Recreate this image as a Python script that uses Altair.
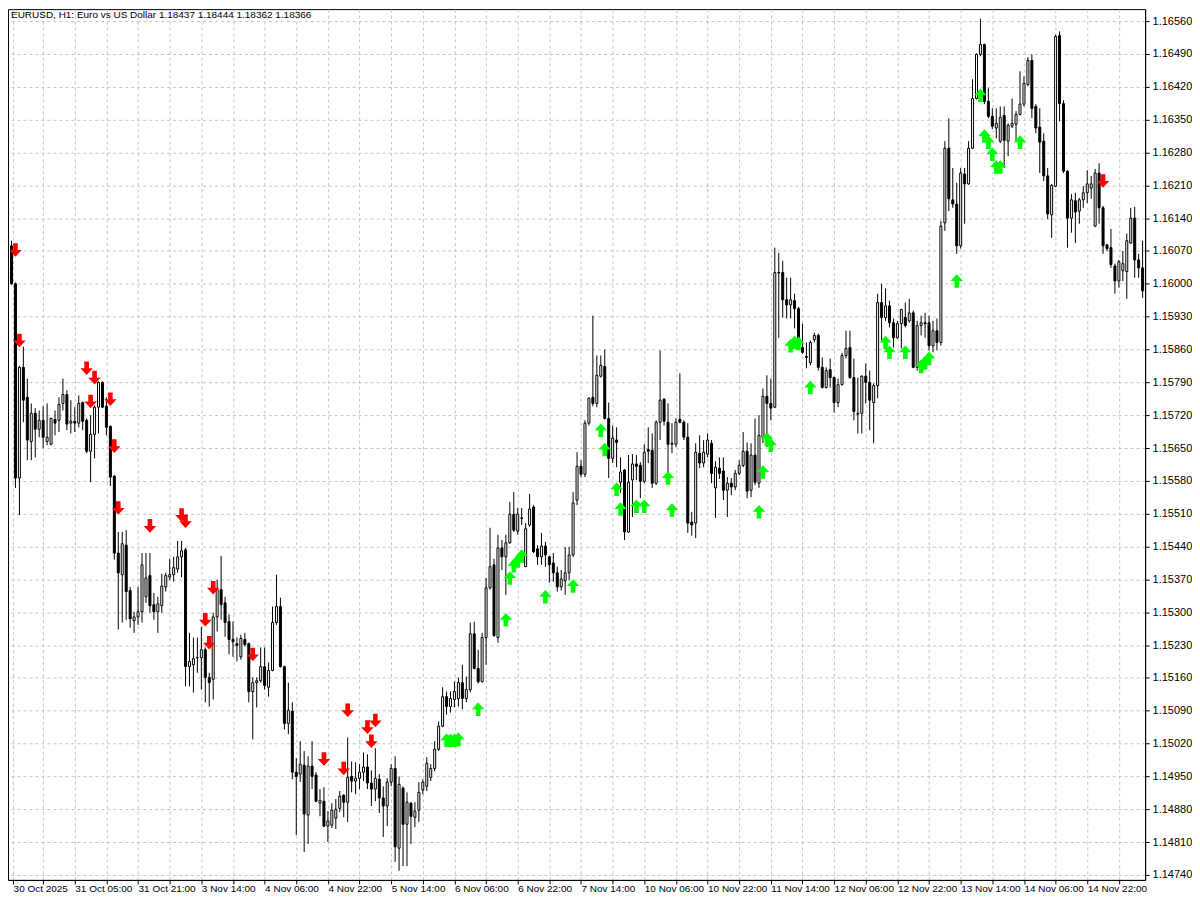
import altair as alt
import pandas as pd

opens = [
1.16081, 1.16000, 1.15586, 1.15822, 1.15758, 1.15664, 1.15724, 1.15690, 1.15709, 1.15664,
1.15658, 1.15711, 1.15709, 1.15745, 1.15764, 1.15703, 1.15707, 1.15703, 1.15747, 1.15709,
1.15643, 1.15679, 1.15737, 1.15790, 1.15739, 1.15696, 1.15590, 1.15426, 1.15380, 1.15443,
1.15346, 1.15282, 1.15290, 1.15301, 1.15333, 1.15378, 1.15316, 1.15301, 1.15314, 1.15354,
1.15375, 1.15380, 1.15392, 1.15418, 1.15433, 1.15184, 1.15188, 1.15203, 1.15203, 1.15220,
1.15161, 1.15157, 1.15290, 1.15348, 1.15320, 1.15280, 1.15242, 1.15233, 1.15205, 1.15242,
1.15233, 1.15131, 1.15150, 1.15154, 1.15184, 1.15140, 1.15176, 1.15278, 1.15312, 1.15184,
1.15063, 1.15089, 1.14959, 1.14955, 1.14974, 1.14868, 1.14972, 1.14953, 1.14893, 1.14897,
1.14844, 1.14846, 1.14861, 1.14882, 1.14910, 1.14895, 1.14950, 1.14940, 1.14946, 1.14959,
1.14970, 1.14936, 1.14923, 1.14944, 1.14904, 1.14887, 1.14938, 1.14967, 1.14797, 1.14925,
1.14848, 1.14893, 1.14863, 1.14878, 1.14921, 1.14929, 1.14948, 1.14967, 1.15008, 1.15057,
1.15120, 1.15099, 1.15114, 1.15116, 1.15150, 1.15116, 1.15135, 1.15254, 1.15180, 1.15152,
1.15246, 1.15352, 1.15401, 1.15246, 1.15437, 1.15418, 1.15448, 1.15509, 1.15473, 1.15501,
1.15397, 1.15486, 1.15524, 1.15435, 1.15418, 1.15441, 1.15418, 1.15405, 1.15384, 1.15354,
1.15367, 1.15384, 1.15422, 1.15539, 1.15611, 1.15594, 1.15703, 1.15758, 1.15745, 1.15803,
1.15824, 1.15713, 1.15628, 1.15667, 1.15577, 1.15603, 1.15471, 1.15582, 1.15616, 1.15613,
1.15579, 1.15647, 1.15645, 1.15575, 1.15705, 1.15754, 1.15705, 1.15658, 1.15658, 1.15711,
1.15705, 1.15673, 1.15492, 1.15490, 1.15639, 1.15618, 1.15637, 1.15660, 1.15565, 1.15607,
1.15601, 1.15560, 1.15575, 1.15567, 1.15596, 1.15613, 1.15643, 1.15560, 1.15635, 1.15575,
1.15673, 1.15760, 1.15745, 1.15737, 1.16024, 1.16024, 1.15966, 1.15955, 1.15964, 1.15947,
1.15864, 1.15845, 1.15832, 1.15881, 1.15890, 1.15822, 1.15779, 1.15817, 1.15800, 1.15747,
1.15785, 1.15847, 1.15864, 1.15800, 1.15722, 1.15724, 1.15803, 1.15790, 1.15747, 1.15783,
1.15960, 1.15928, 1.15953, 1.15917, 1.15885, 1.15915, 1.15928, 1.15921, 1.15938, 1.15822,
1.15911, 1.15917, 1.15917, 1.15868, 1.15900, 1.15875, 1.16130, 1.16289, 1.16179, 1.16170,
1.16081, 1.16234, 1.16213, 1.16289, 1.16395, 1.16489, 1.16510, 1.16389, 1.16357, 1.16332,
1.16304, 1.16359, 1.16304, 1.16336, 1.16340, 1.16361, 1.16383, 1.16425, 1.16476, 1.16378,
1.16334, 1.16304, 1.16230, 1.16147, 1.16208, 1.16529, 1.16384, 1.16240, 1.16140, 1.16177,
1.16155, 1.16179, 1.16194, 1.16204, 1.16123, 1.16236, 1.16162, 1.16083, 1.16077, 1.16038,
1.16006, 1.16028, 1.16026, 1.16087, 1.16140, 1.16051, 1.16034,
]

highs = [
1.16092, 1.16003, 1.15825, 1.15866, 1.15798, 1.15745, 1.15735, 1.15730, 1.15739, 1.15745,
1.15715, 1.15730, 1.15758, 1.15798, 1.15773, 1.15752, 1.15737, 1.15762, 1.15749, 1.15713,
1.15720, 1.15741, 1.15792, 1.15792, 1.15758, 1.15698, 1.15592, 1.15471, 1.15471, 1.15475,
1.15354, 1.15301, 1.15354, 1.15426, 1.15426, 1.15426, 1.15341, 1.15333, 1.15382, 1.15384,
1.15414, 1.15418, 1.15452, 1.15452, 1.15437, 1.15256, 1.15246, 1.15246, 1.15269, 1.15225,
1.15171, 1.15299, 1.15369, 1.15420, 1.15333, 1.15295, 1.15280, 1.15246, 1.15252, 1.15256,
1.15235, 1.15161, 1.15161, 1.15225, 1.15225, 1.15193, 1.15312, 1.15380, 1.15331, 1.15186,
1.15150, 1.15108, 1.14989, 1.15025, 1.15004, 1.14993, 1.15025, 1.14959, 1.14923, 1.14927,
1.14876, 1.14893, 1.14902, 1.14919, 1.14912, 1.15033, 1.14982, 1.14980, 1.14976, 1.15001,
1.14997, 1.14963, 1.15010, 1.14955, 1.14929, 1.14946, 1.14976, 1.14993, 1.14950, 1.14929,
1.14916, 1.14895, 1.14895, 1.14938, 1.14944, 1.14991, 1.14976, 1.15025, 1.15067, 1.15140,
1.15131, 1.15131, 1.15152, 1.15161, 1.15188, 1.15163, 1.15278, 1.15280, 1.15220, 1.15256,
1.15373, 1.15480, 1.15414, 1.15465, 1.15454, 1.15465, 1.15535, 1.15556, 1.15522, 1.15522,
1.15490, 1.15552, 1.15528, 1.15443, 1.15469, 1.15450, 1.15420, 1.15426, 1.15397, 1.15390,
1.15439, 1.15439, 1.15556, 1.15641, 1.15624, 1.15709, 1.15758, 1.15932, 1.15847, 1.15847,
1.15860, 1.15747, 1.15698, 1.15694, 1.15630, 1.15605, 1.15635, 1.15637, 1.15635, 1.15620,
1.15658, 1.15694, 1.15681, 1.15709, 1.15858, 1.15756, 1.15745, 1.15703, 1.15713, 1.15809,
1.15709, 1.15703, 1.15514, 1.15660, 1.15677, 1.15667, 1.15681, 1.15667, 1.15622, 1.15630,
1.15630, 1.15588, 1.15586, 1.15603, 1.15624, 1.15684, 1.15662, 1.15660, 1.15713, 1.15720,
1.15777, 1.15805, 1.15798, 1.16077, 1.16066, 1.16049, 1.16013, 1.16013, 1.15979, 1.15951,
1.15915, 1.15875, 1.15879, 1.15896, 1.15894, 1.15843, 1.15822, 1.15841, 1.15802, 1.15798,
1.15853, 1.15900, 1.15900, 1.15841, 1.15800, 1.15805, 1.15830, 1.15815, 1.15788, 1.15979,
1.16000, 1.15990, 1.15964, 1.15926, 1.15921, 1.15947, 1.15960, 1.15968, 1.15943, 1.15921,
1.15932, 1.15938, 1.15932, 1.15921, 1.15926, 1.16134, 1.16304, 1.16353, 1.16247, 1.16215,
1.16247, 1.16247, 1.16304, 1.16436, 1.16491, 1.16565, 1.16512, 1.16417, 1.16374, 1.16374,
1.16378, 1.16378, 1.16342, 1.16395, 1.16368, 1.16453, 1.16442, 1.16483, 1.16489, 1.16383,
1.16374, 1.16321, 1.16247, 1.16213, 1.16531, 1.16538, 1.16391, 1.16242, 1.16191, 1.16194,
1.16183, 1.16208, 1.16242, 1.16230, 1.16245, 1.16257, 1.16166, 1.16085, 1.16117, 1.16043,
1.16051, 1.16070, 1.16107, 1.16162, 1.16164, 1.16064, 1.16092,
]

lows = [
1.15998, 1.15565, 1.15507, 1.15705, 1.15624, 1.15624, 1.15630, 1.15673, 1.15650, 1.15656,
1.15656, 1.15677, 1.15684, 1.15730, 1.15688, 1.15681, 1.15684, 1.15694, 1.15688, 1.15639,
1.15577, 1.15628, 1.15681, 1.15735, 1.15677, 1.15569, 1.15412, 1.15263, 1.15278, 1.15284,
1.15267, 1.15256, 1.15273, 1.15278, 1.15320, 1.15299, 1.15284, 1.15256, 1.15299, 1.15344,
1.15369, 1.15365, 1.15384, 1.15375, 1.15142, 1.15142, 1.15129, 1.15171, 1.15135, 1.15108,
1.15099, 1.15114, 1.15259, 1.15284, 1.15248, 1.15210, 1.15205, 1.15195, 1.15199, 1.15227,
1.15108, 1.15029, 1.15097, 1.15150, 1.15135, 1.15120, 1.15174, 1.15273, 1.15182, 1.15050,
1.15040, 1.14944, 1.14825, 1.14938, 1.14789, 1.14806, 1.14923, 1.14895, 1.14865, 1.14842,
1.14810, 1.14840, 1.14838, 1.14874, 1.14863, 1.14853, 1.14916, 1.14912, 1.14923, 1.14940,
1.14923, 1.14887, 1.14897, 1.14872, 1.14821, 1.14844, 1.14929, 1.14768, 1.14749, 1.14759,
1.14759, 1.14806, 1.14842, 1.14853, 1.14912, 1.14919, 1.14940, 1.14961, 1.15004, 1.15055,
1.15082, 1.15086, 1.15097, 1.15099, 1.15093, 1.15108, 1.15129, 1.15178, 1.15148, 1.15150,
1.15188, 1.15348, 1.15248, 1.15235, 1.15390, 1.15337, 1.15446, 1.15471, 1.15465, 1.15486,
1.15397, 1.15482, 1.15426, 1.15401, 1.15401, 1.15397, 1.15363, 1.15365, 1.15344, 1.15346,
1.15337, 1.15369, 1.15418, 1.15528, 1.15588, 1.15588, 1.15698, 1.15739, 1.15737, 1.15800,
1.15711, 1.15586, 1.15618, 1.15609, 1.15554, 1.15454, 1.15469, 1.15503, 1.15582, 1.15543,
1.15575, 1.15618, 1.15565, 1.15571, 1.15667, 1.15698, 1.15586, 1.15639, 1.15652, 1.15703,
1.15667, 1.15469, 1.15463, 1.15458, 1.15607, 1.15609, 1.15630, 1.15575, 1.15501, 1.15584,
1.15539, 1.15503, 1.15550, 1.15560, 1.15592, 1.15609, 1.15543, 1.15545, 1.15571, 1.15565,
1.15660, 1.15652, 1.15709, 1.15735, 1.15885, 1.15928, 1.15926, 1.15926, 1.15905, 1.15868,
1.15851, 1.15820, 1.15826, 1.15875, 1.15815, 1.15777, 1.15777, 1.15779, 1.15726, 1.15737,
1.15783, 1.15841, 1.15798, 1.15709, 1.15681, 1.15681, 1.15745, 1.15688, 1.15660, 1.15756,
1.15879, 1.15921, 1.15907, 1.15864, 1.15883, 1.15862, 1.15907, 1.15917, 1.15820, 1.15815,
1.15890, 1.15885, 1.15858, 1.15854, 1.15858, 1.15868, 1.16113, 1.16155, 1.16162, 1.16064,
1.16075, 1.16128, 1.16211, 1.16287, 1.16393, 1.16485, 1.16383, 1.16353, 1.16330, 1.16310,
1.16300, 1.16247, 1.16272, 1.16332, 1.16304, 1.16359, 1.16378, 1.16421, 1.16353, 1.16321,
1.16236, 1.16219, 1.16138, 1.16098, 1.16206, 1.16346, 1.16236, 1.16077, 1.16109, 1.16087,
1.16128, 1.16162, 1.16172, 1.16181, 1.16121, 1.16128, 1.16064, 1.16070, 1.16034, 1.15979,
1.15992, 1.16006, 1.15968, 1.16085, 1.16013, 1.16013, 1.15970,
]

closes = [
1.16000, 1.15586, 1.15822, 1.15752, 1.15667, 1.15724, 1.15690, 1.15709, 1.15673, 1.15673,
1.15713, 1.15703, 1.15743, 1.15764, 1.15701, 1.15707, 1.15703, 1.15745, 1.15707, 1.15643,
1.15679, 1.15737, 1.15790, 1.15737, 1.15694, 1.15588, 1.15426, 1.15384, 1.15446, 1.15344,
1.15286, 1.15290, 1.15301, 1.15401, 1.15373, 1.15314, 1.15301, 1.15318, 1.15356, 1.15378,
1.15380, 1.15395, 1.15418, 1.15431, 1.15184, 1.15195, 1.15201, 1.15203, 1.15220, 1.15161,
1.15150, 1.15290, 1.15348, 1.15316, 1.15278, 1.15242, 1.15237, 1.15229, 1.15244, 1.15231,
1.15131, 1.15150, 1.15154, 1.15184, 1.15144, 1.15176, 1.15278, 1.15312, 1.15184, 1.15063,
1.15091, 1.14959, 1.14950, 1.14976, 1.14870, 1.14972, 1.14950, 1.14897, 1.14899, 1.14844,
1.14855, 1.14878, 1.14880, 1.14908, 1.14895, 1.14948, 1.14940, 1.14946, 1.14959, 1.14970,
1.14936, 1.14923, 1.14946, 1.14904, 1.14887, 1.14938, 1.14967, 1.14800, 1.14933, 1.14848,
1.14895, 1.14865, 1.14876, 1.14916, 1.14938, 1.14978, 1.14967, 1.15008, 1.15057, 1.15120,
1.15099, 1.15116, 1.15131, 1.15150, 1.15116, 1.15135, 1.15254, 1.15180, 1.15152, 1.15246,
1.15352, 1.15397, 1.15250, 1.15437, 1.15418, 1.15448, 1.15509, 1.15475, 1.15509, 1.15500,
1.15478, 1.15520, 1.15429, 1.15418, 1.15441, 1.15422, 1.15401, 1.15384, 1.15354, 1.15371,
1.15384, 1.15422, 1.15533, 1.15611, 1.15594, 1.15703, 1.15756, 1.15745, 1.15805, 1.15826,
1.15713, 1.15628, 1.15671, 1.15662, 1.15599, 1.15471, 1.15577, 1.15616, 1.15611, 1.15579,
1.15641, 1.15643, 1.15575, 1.15705, 1.15752, 1.15707, 1.15658, 1.15660, 1.15705, 1.15705,
1.15673, 1.15490, 1.15486, 1.15641, 1.15618, 1.15641, 1.15667, 1.15596, 1.15609, 1.15596,
1.15560, 1.15575, 1.15567, 1.15596, 1.15613, 1.15643, 1.15558, 1.15635, 1.15577, 1.15677,
1.15760, 1.15745, 1.15735, 1.16024, 1.16023, 1.15966, 1.15955, 1.15966, 1.15947, 1.15873,
1.15854, 1.15843, 1.15875, 1.15890, 1.15822, 1.15779, 1.15815, 1.15800, 1.15747, 1.15785,
1.15847, 1.15862, 1.15800, 1.15728, 1.15724, 1.15803, 1.15790, 1.15752, 1.15783, 1.15960,
1.15928, 1.15953, 1.15917, 1.15885, 1.15915, 1.15945, 1.15911, 1.15938, 1.15822, 1.15911,
1.15917, 1.15915, 1.15868, 1.15900, 1.15875, 1.16123, 1.16289, 1.16181, 1.16170, 1.16081,
1.16236, 1.16213, 1.16289, 1.16395, 1.16489, 1.16510, 1.16389, 1.16357, 1.16336, 1.16342,
1.16355, 1.16306, 1.16338, 1.16342, 1.16361, 1.16383, 1.16427, 1.16476, 1.16374, 1.16332,
1.16302, 1.16230, 1.16149, 1.16210, 1.16527, 1.16384, 1.16240, 1.16140, 1.16179, 1.16153,
1.16179, 1.16194, 1.16213, 1.16213, 1.16236, 1.16162, 1.16081, 1.16075, 1.16041, 1.16006,
1.16047, 1.16043, 1.16092, 1.16140, 1.16051, 1.16034, 1.15985,
]

# sell signals (red arrows above price) and buy signals (green arrows below price)
red_idx = [1, 2, 19, 20, 21, 25, 26, 27, 35, 43, 44, 49, 50, 51, 61, 79, 84, 85, 90, 91, 92, 276]
red_val = [1.16072, 1.15879, 1.15820, 1.15749, 1.15800, 1.15754, 1.15654, 1.15522, 1.15484, 1.15507,
           1.15494, 1.15284, 1.15235, 1.15352, 1.15210, 1.14987, 1.14967, 1.15091, 1.15055, 1.15025,
           1.15069, 1.16219]

green_idx = [110, 111, 112, 113, 118, 125, 126, 127, 128, 129, 135, 142, 149, 150, 153, 154, 158, 160,
             166, 167, 189, 190, 191, 192, 197, 198, 199, 202, 221, 222, 226, 230, 231, 232, 239, 245,
             246, 247, 248, 249, 250, 255]
green_val = [1.15027, 1.15027, 1.15027, 1.15029, 1.15093, 1.15284, 1.15373, 1.15399, 1.15409, 1.15420,
             1.15333, 1.15356, 1.15688, 1.15647, 1.15562, 1.15520, 1.15526, 1.15526, 1.15586, 1.15518,
             1.15514, 1.15599, 1.15669, 1.15656, 1.15868, 1.15875, 1.15873, 1.15779, 1.15875, 1.15854,
             1.15854, 1.15824, 1.15832, 1.15841, 1.16006, 1.16402, 1.16315, 1.16302, 1.16276, 1.16249,
             1.16249, 1.16302]

x_labels = ['30 Oct 2025', '31 Oct 05:00', '31 Oct 21:00', '3 Nov 14:00', '4 Nov 06:00',
            '4 Nov 22:00', '5 Nov 14:00', '6 Nov 06:00', '6 Nov 22:00', '7 Nov 14:00',
            '10 Nov 06:00', '10 Nov 22:00', '11 Nov 14:00', '12 Nov 06:00', '12 Nov 22:00',
            '13 Nov 14:00', '14 Nov 06:00', '14 Nov 22:00']

y_ticks = [1.14740, 1.14810, 1.14880, 1.14950, 1.15020, 1.15090, 1.15160, 1.15230, 1.15300,
           1.15370, 1.15440, 1.15510, 1.15580, 1.15650, 1.15720, 1.15790, 1.15860, 1.15930,
           1.16000, 1.16070, 1.16140, 1.16210, 1.16280, 1.16350, 1.16420, 1.16490, 1.16560]

header = "EURUSD, H1:  Euro vs US Dollar  1.18437 1.18444 1.18362 1.18366"

n = min(len(opens), len(highs), len(lows), len(closes))
candles = pd.DataFrame({'i': list(range(n)), 'o': opens[:n], 'h': highs[:n],
                        'l': lows[:n], 'c': closes[:n]})
red = pd.DataFrame({'i': red_idx, 'p': red_val})
green = pd.DataFrame({'i': green_idx, 'p': green_val})

FONT = 'Liberation Sans'
XS = alt.Scale(domain=[0.375, 285.375], nice=False, zero=False)
YS = alt.Scale(domain=[1.147294, 1.165855], nice=False, zero=False)

x_vals = [0.4] + list(range(8, 286, 8))
lab = "[" + ",".join("'" + s + "'" for s in x_labels) + "]"
x_axis = alt.Axis(
    values=x_vals,
    labelExpr=f"datum.value < 1 ? {lab}[0] : (datum.value % 16 == 0 ? {lab}[datum.value / 16] : '')",
    title=None, orient='bottom', grid=True, gridColor='#c4c4c4', gridDash=[3, 3], gridWidth=1,
    domainColor='black', tickColor='black', tickSize=4, labelAlign='left', labelBaseline='top',
    labelPadding=0, labelFont=FONT, labelFontSize=10, labelColor='black', labelOverlap=False,
    labelFlush=False)
y_axis = alt.Axis(
    values=y_ticks, format='.5f', title=None, orient='right', grid=True, gridColor='#c4c4c4',
    gridDash=[3, 3], gridWidth=1, domainColor='black', tickColor='black', tickSize=4,
    labelFont=FONT, labelFontSize=11, labelColor='black', labelPadding=3, labelOverlap=False,
    labelFlush=False)

X = alt.X('i:Q', scale=XS, axis=x_axis)

wicks = alt.Chart(candles).mark_rule(color='black', strokeWidth=1, clip=True).encode(
    x=X, y=alt.Y('h:Q', scale=YS, axis=y_axis), y2='l:Q')

bodies = alt.Chart(candles).mark_bar(size=2, stroke='black', strokeWidth=1, clip=True).encode(
    x=X, y=alt.Y('o:Q', scale=YS, axis=y_axis), y2='c:Q',
    fill=alt.condition('datum.c >= datum.o', alt.value('white'), alt.value('black')))

DOWN = "M -0.34 -1 L 0.34 -1 L 0.34 0 L 0.92 0 L 0 1 L -0.92 0 L -0.34 0 Z"
UP = "M -0.34 1 L 0.34 1 L 0.34 0 L 0.92 0 L 0 -1 L -0.92 0 L -0.34 0 Z"

red_arrows = alt.Chart(red).mark_point(shape=DOWN, filled=True, size=185, color='#ff0000',
                                        opacity=1, strokeWidth=0, clip=True).encode(
    x=X, y=alt.Y('p:Q', scale=YS, axis=y_axis))

green_arrows = alt.Chart(green).mark_point(shape=UP, filled=True, size=185, color='#00ff00',
                                            opacity=1, strokeWidth=0, clip=True).encode(
    x=X, y=alt.Y('p:Q', scale=YS, axis=y_axis))

title = alt.Chart(pd.DataFrame({'t': [header]})).mark_text(
    align='left', baseline='middle', font=FONT, fontSize=10, color='black').encode(
    x=alt.value(3), y=alt.value(6), text='t:N')

chart = alt.layer(wicks, bodies, red_arrows, green_arrows, title).properties(
    width=1140, height=873, padding=0, background='white'
).configure_view(stroke='black', strokeWidth=1)

chart.save("out.html", embed_options={"renderer": "svg", "actions": False})
